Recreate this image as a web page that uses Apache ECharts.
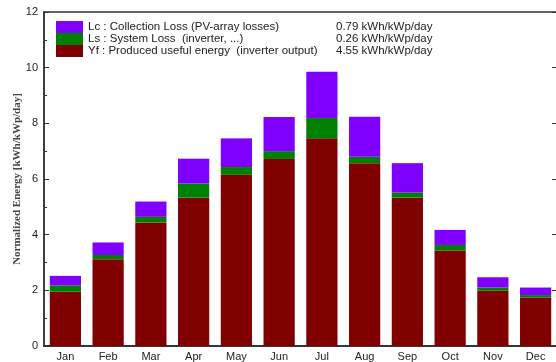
<!DOCTYPE html>
<html style="height: 100%">
<head>
    <meta charset="utf-8">
</head>
<body style="height: 100%; margin: 0; background: #fff">
<div id="container" style="width: 556px; height: 362px"></div>
<script src="https://cdn.jsdelivr.net/npm/echarts@6/dist/echarts.min.js"></script>
<script>
// months
var months = ['Jan', 'Feb', 'Mar', 'Apr', 'May', 'Jun', 'Jul', 'Aug', 'Sep', 'Oct', 'Nov', 'Dec'];
// Yf : produced useful energy
var yf = [1.95, 3.12, 4.44, 5.33, 6.15, 6.72, 7.46, 6.57, 5.33, 3.43, 1.99, 1.74];
// Ls : system loss
var ls = [0.23, 0.15, 0.20, 0.51, 0.28, 0.28, 0.73, 0.23, 0.18, 0.20, 0.11, 0.09];
// Lc : collection loss
var lc = [0.34, 0.45, 0.55, 0.89, 1.03, 1.23, 1.66, 1.44, 1.06, 0.54, 0.37, 0.27];

var legendNames = ['Lc', 'Ls', 'Yf'];
var legendText = {
    Lc: 'Lc : Collection Loss (PV-array losses)',
    Ls: 'Ls : System Loss  (inverter, ...)',
    Yf: 'Yf : Produced useful energy  (inverter output)'
};
var legendValue = {
    Lc: '0.79 kWh/kWp/day',
    Ls: '0.26 kWh/kWp/day',
    Yf: '4.55 kWh/kWp/day'
};

var axisColor = '#333';
var font = 'Liberation Sans, Arial, sans-serif';

var myChart = echarts.init(document.getElementById('container'));
var option = {
    backgroundColor: '#fff',
    animation: false,
    grid: {
        left: 44,
        right: -1,
        top: 12,
        bottom: 16,
        containLabel: false,
        outerBoundsMode: 'none',
        show: true,
        borderColor: axisColor,
        borderWidth: 1.5
    },
    legend: {
        data: legendNames,
        orient: 'vertical',
        left: 56,
        top: 21,
        padding: 0,
        itemWidth: 27,
        itemHeight: 12,
        itemGap: 0,
        icon: 'rect',
        selectedMode: false,
        textStyle: {
            fontFamily: font,
            fontSize: 11.5,
            color: '#222',
            lineHeight: 12,
            rich: {
                a: { width: 248, fontSize: 11.5, fontFamily: font, color: '#222', lineHeight: 12 },
                b: { fontSize: 11.5, fontFamily: font, color: '#222', lineHeight: 12 }
            }
        },
        formatter: function (name) {
            return '{a|' + legendText[name] + '}{b|' + legendValue[name] + '}';
        }
    },
    xAxis: [{
        type: 'category',
        data: months,
        axisLine: { lineStyle: { color: axisColor, width: 1.5 } },
        axisTick: { inside: true, length: 4, lineStyle: { color: axisColor } },
        axisLabel: { color: '#222', fontSize: 11, fontFamily: font, margin: 5 }
    }, {
        type: 'category',
        data: months,
        position: 'top',
        axisLine: { lineStyle: { color: axisColor, width: 1.5 } },
        axisTick: { inside: true, length: 4, lineStyle: { color: axisColor } },
        axisLabel: { show: false }
    }],
    yAxis: [{
        type: 'value',
        min: 0,
        max: 12,
        interval: 2,
        name: 'Normalized Energy [kWh/kWp/day]',
        nameLocation: 'middle',
        nameGap: 21,
        nameMoveOverlap: false,
        nameTextStyle: { fontFamily: 'Liberation Serif, Times New Roman, serif', fontSize: 11, fontWeight: 'bold', color: '#444' },
        axisLine: { show: true, lineStyle: { color: axisColor, width: 1.5 } },
        axisTick: { show: true, inside: true, length: 5, lineStyle: { color: axisColor } },
        minorTick: { show: true, splitNumber: 2, length: 3, lineStyle: { color: axisColor } },
        splitLine: { show: false },
        axisLabel: { color: '#222', fontSize: 11, fontFamily: font, margin: 6 }
    }, {
        type: 'value',
        min: 0,
        max: 12,
        interval: 2,
        position: 'right',
        axisLine: { show: true, lineStyle: { color: axisColor, width: 1.5 } },
        axisTick: { show: true, inside: true, length: 5, lineStyle: { color: axisColor } },
        splitLine: { show: false },
        axisLabel: { show: false }
    }],
    series: [{
        name: 'Yf',
        type: 'bar',
        stack: 'e',
        barCategoryGap: '27%',
        itemStyle: { color: '#800000' },
        data: yf
    }, {
        name: 'Ls',
        type: 'bar',
        stack: 'e',
        itemStyle: { color: '#008000' },
        data: ls
    }, {
        name: 'Lc',
        type: 'bar',
        stack: 'e',
        itemStyle: { color: '#8000ff' },
        data: lc
    }]
};
myChart.setOption(option);
</script>
</body>
</html>
